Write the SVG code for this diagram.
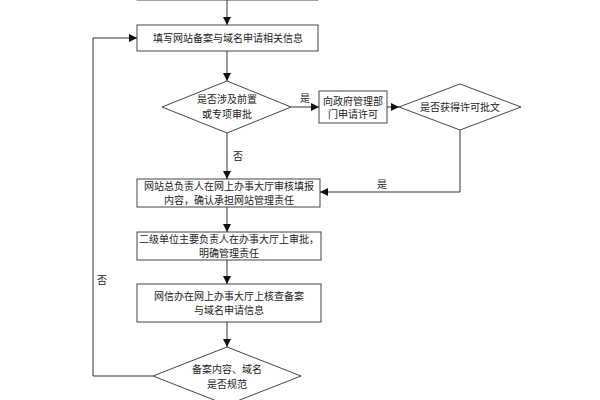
<svg xmlns="http://www.w3.org/2000/svg" width="600" height="400" viewBox="0 0 600 400">
<defs>
<marker id="ah" markerWidth="8" markerHeight="8" refX="8" refY="4" orient="auto" markerUnits="userSpaceOnUse">
<path d="M0,0 L8,4 L0,8 Z" fill="#111"/>
</marker>
<style>
.n{fill:#fff;stroke:#444;stroke-width:1}
.t{font-family:"Liberation Serif","Noto Sans CJK SC",serif;font-size:10px;fill:#222;text-anchor:middle;dominant-baseline:central}
.c{fill:none;stroke:#333;stroke-width:1;marker-end:url(#ah)}
.c2{fill:none;stroke:#333;stroke-width:1}
</style>
</defs>
<rect width="600" height="400" fill="#fff"/>
<g id="top"><rect class="n" x="137" y="-20" width="181" height="20"/></g>
<g id="n1"><rect class="n" x="137" y="25" width="181" height="26"/><text class="t" x="228" y="38">填写网站备案与域名申请相关信息</text></g>
<g id="d1"><polygon class="n" points="227,81 291,107 227,133 162,107"/><text class="t" x="227" y="99">是否涉及前置</text><text class="t" x="227" y="114">或专项审批</text></g>
<g id="n2"><rect class="n" x="319" y="91" width="68" height="32"/><text class="t" x="353" y="101">向政府管理部</text><text class="t" x="353" y="114">门申请许可</text></g>
<g id="d2"><polygon class="n" points="460,84 521,107 460,130 399,107"/><text class="t" x="460" y="107">是否获得许可批文</text></g>
<g id="n3"><rect class="n" x="137" y="179" width="183" height="28"/><text class="t" x="229" y="186">网站总负责人在网上办事大厅审核填报</text><text class="t" x="229" y="200">内容，确认承担网站管理责任</text></g>
<g id="n4"><rect class="n" x="137" y="232" width="184" height="28"/><text class="t" x="229" y="239">二级单位主要负责人在办事大厅上审批，</text><text class="t" x="229" y="253">明确管理责任</text></g>
<g id="n5"><rect class="n" x="137" y="284" width="184" height="38"/><text class="t" x="229" y="296">网信办在网上办事大厅上核查备案</text><text class="t" x="229" y="310">与域名申请信息</text></g>
<g id="d3"><polygon class="n" points="227,347 301,376 227,405 153,376"/><text class="t" x="227" y="369">备案内容、域名</text><text class="t" x="227" y="384">是否规范</text></g>
<g id="connectors">
<path class="c" d="M227,0 V25"/>
<path class="c" d="M227,51 V81"/>
<path class="c" d="M291,107 H319"/>
<path class="c" d="M387,107 H399"/>
<path class="c" d="M460,130 V192 H320"/>
<path class="c" d="M227,133 V179"/>
<path class="c" d="M227,207 V232"/>
<path class="c" d="M227,260 V284"/>
<path class="c" d="M227,322 V347"/>
<path class="c" d="M153,376 H93 V38 H137"/>
<text class="t" x="305" y="98">是</text>
<text class="t" x="382" y="184">是</text>
<text class="t" x="238" y="156">否</text>
<text class="t" x="102" y="280">否</text>
</g>
</svg>
